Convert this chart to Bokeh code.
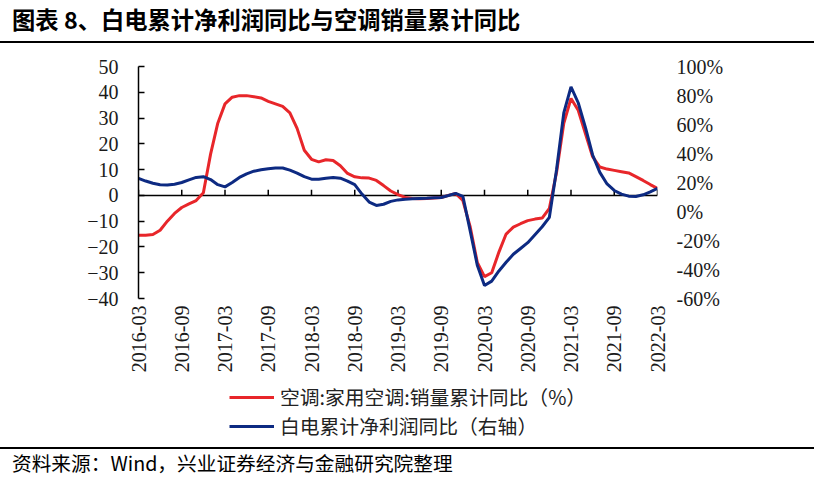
import math
import numpy as np
import pandas as pd
from bokeh.plotting import figure
from bokeh.models import (Range1d, LinearAxis, FixedTicker, CustomJSTickFormatter,
                          Span, Legend, LegendItem, Div)
from bokeh.layouts import column
from bokeh.embed import file_html
from bokeh.resources import INLINE

# ---------------- data ----------------
months = [str(p) for p in pd.period_range("2016-03", "2022-03", freq="M")]

# 空调:家用空调:销量累计同比 (%), left axis
ac_sales_yoy = [
    -15.5, -15.5, -15.2, -13.5, -10.0, -7.0, -4.7, -3.3, -2.0, 1.0,
    16.0, 28.0, 35.5, 38.1, 38.7, 38.7, 38.3, 37.8, 36.5, 35.5, 34.5, 32.0,
    26.0, 17.5, 14.0, 13.0, 13.8, 13.5, 11.5, 8.5, 7.2, 6.8, 6.7, 5.8,
    3.8, 1.7, 0.3, -0.8, -1.2, -1.3, -1.2, -1.0, -0.8, 0.0, 0.8, -2.0,
    -12.0, -26.0, -31.5, -30.0, -22.0, -15.0, -12.3, -11.0, -9.8, -9.2, -8.8, -5.0,
    9.0, 28.0, 37.6, 33.0, 24.0, 15.0, 11.0, 10.2, 9.7, 9.2, 8.7, 7.3,
    5.8, 4.2, 2.7,
]

# 白电累计净利润同比 (%), right axis
profit_yoy = [
    22.8, 21.0, 19.5, 18.5, 18.2, 18.8, 20.0, 21.8, 23.5, 24.0,
    22.0, 18.5, 17.0, 20.0, 23.5, 26.0, 27.8, 28.8, 29.5, 30.0, 30.0, 28.5,
    26.5, 24.0, 22.3, 22.2, 23.0, 23.5, 23.0, 21.0, 18.5, 12.0, 6.5, 4.2,
    5.0, 7.0, 8.0, 8.5, 8.8, 9.0, 9.2, 9.5, 9.7, 11.0, 12.5, 10.5,
    -13.0, -37.0, -51.0, -48.0, -41.0, -35.0, -29.5, -25.5, -21.5, -16.0, -10.5, -4.0,
    29.0, 68.0, 86.0, 75.0, 58.0, 39.0, 27.0, 19.0, 14.5, 12.0, 10.6, 10.4,
    11.5, 13.5, 16.0,
]

tick_idx = list(range(0, len(months), 6))
tick_labels = [months[i] for i in tick_idx]
left_ticks = [-40, -30, -20, -10, 0, 10, 20, 30, 40, 50]
right_ticks = [-60, -40, -20, 0, 20, 40, 60, 80, 100]

title_text = "图表 8、白电累计净利润同比与空调销量累计同比"
legend_labels = ["空调:家用空调:销量累计同比（%）", "白电累计净利润同比（右轴）"]
source_text = "资料来源：Wind，兴业证券经济与金融研究院整理"

RED = "#E8262A"
BLUE = "#0D2A82"
W = 814
SERIF = "Liberation Serif"
CJK = "Noto Sans CJK SC"
BL, BR = 138, 157

# ---------------- header ----------------
head = Div(
    text=(
        '<div style="position:relative;width:814px;height:52px;">'
        '<div style="position:absolute;left:12px;top:8px;font-family:\'Noto Sans CJK SC\';'
        'font-weight:bold;font-size:23.3px;line-height:22px;white-space:nowrap;color:#000;">'
        + title_text +
        '</div>'
        '<div style="position:absolute;left:0px;top:41px;width:814px;height:2px;background:#000;"></div>'
        '</div>'
    ),
    width=W, height=52, margin=0,
)

# ---------------- main ----------------
x = list(range(len(months)))
p = figure(width=W, height=324, x_range=Range1d(0, len(months) - 1),
           y_range=Range1d(-40, 50), output_backend="svg", toolbar_location=None,
           min_border_left=BL, min_border_right=BR, min_border_top=14,
           min_border_bottom=78)
p.extra_y_ranges = {"right": Range1d(-60, 100)}
p.grid.visible = False
p.outline_line_color = None
p.background_fill_color = None

# left axis
ya = p.yaxis[0]
ya.ticker = FixedTicker(ticks=left_ticks, minor_ticks=[])
ya.major_tick_in = 6
ya.major_tick_out = 0
ya.minor_tick_line_color = None
ya.axis_line_width = 1.5
ya.major_tick_line_width = 1.5
ya.axis_line_color = "#000000"
ya.major_tick_line_color = "#000000"
ya.major_label_standoff = 20
ya.major_label_text_font = SERIF
ya.major_label_text_font_size = "20px"
ya.major_label_text_color = "#1a1a1a"

# right axis
ra = LinearAxis(y_range_name="right",
                ticker=FixedTicker(ticks=right_ticks, minor_ticks=[]),
                formatter=CustomJSTickFormatter(code="return tick + '%';"))
ra.axis_line_color = None
ra.major_tick_line_color = None
ra.minor_tick_line_color = None
ra.major_tick_out = 0
ra.major_tick_in = 0
ra.major_label_standoff = 19
ra.major_label_text_font = SERIF
ra.major_label_text_font_size = "20px"
ra.major_label_text_color = "#1a1a1a"
p.add_layout(ra, "right")

# bottom axis: labels only
xa = p.xaxis[0]
xa.ticker = FixedTicker(ticks=tick_idx, minor_ticks=[])
xa.major_label_overrides = {i: lab for i, lab in zip(tick_idx, tick_labels)}
xa.major_label_orientation = math.pi / 2
xa.axis_line_color = None
xa.major_tick_line_color = None
xa.minor_tick_line_color = None
xa.major_tick_out = 0
xa.major_tick_in = 0
xa.major_label_standoff = 7
xa.major_label_text_font = SERIF
xa.major_label_text_font_size = "20px"
xa.major_label_text_color = "#1a1a1a"

# zero line with category ticks pointing up
p.add_layout(Span(location=0, dimension="width", line_color="#000000",
                  line_width=1.5, level="underlay"))
p.segment(x0=tick_idx, y0=[0] * len(tick_idx), x1=tick_idx,
          y1=[2.2] * len(tick_idx), line_color="#000000", line_width=1.5,
          level="underlay")

p.line(x, ac_sales_yoy, line_color=RED, line_width=3)
p.line(x, profit_yoy, y_range_name="right", line_color=BLUE, line_width=3)

# ---------------- legend strip ----------------
lg = figure(width=W, height=64, x_range=Range1d(0, 1), y_range=Range1d(0, 1),
            x_axis_type=None, y_axis_type=None, output_backend="svg",
            toolbar_location=None, min_border_left=BL, min_border_right=BR,
            min_border_top=2, min_border_bottom=0)
lg.grid.visible = False
lg.outline_line_color = None
nan = np.array([np.nan])
lg_red = lg.line(x=nan, y=nan, line_color=RED, line_width=3)
lg_blue = lg.line(x=nan, y=nan, line_color=BLUE, line_width=3)
legend = Legend(items=[LegendItem(label=legend_labels[0], renderers=[lg_red]),
                       LegendItem(label=legend_labels[1], renderers=[lg_blue])],
                location=(91, 0), orientation="vertical",
                glyph_width=45, glyph_height=24, label_height=24,
                label_standoff=6, padding=0, margin=0, spacing=0,
                border_line_color=None, background_fill_alpha=0,
                label_text_font=CJK, label_text_font_size="19.8px",
                label_text_color="#222222")
lg.add_layout(legend)

# ---------------- footer ----------------
foot = Div(
    text=(
        '<div style="position:relative;width:814px;height:39px;">'
        '<div style="position:absolute;left:0px;top:7px;width:814px;height:2px;background:#000;"></div>'
        '<div style="position:absolute;left:12px;top:13px;font-family:\'Noto Sans CJK SC\';'
        'font-size:19.7px;line-height:20px;white-space:nowrap;color:#000;">'
        + source_text +
        '</div>'
        '</div>'
    ),
    width=W, height=39, margin=0,
)

layout = column(head, p, lg, foot, spacing=0)
open("out.html", "w").write(file_html(layout, INLINE))
